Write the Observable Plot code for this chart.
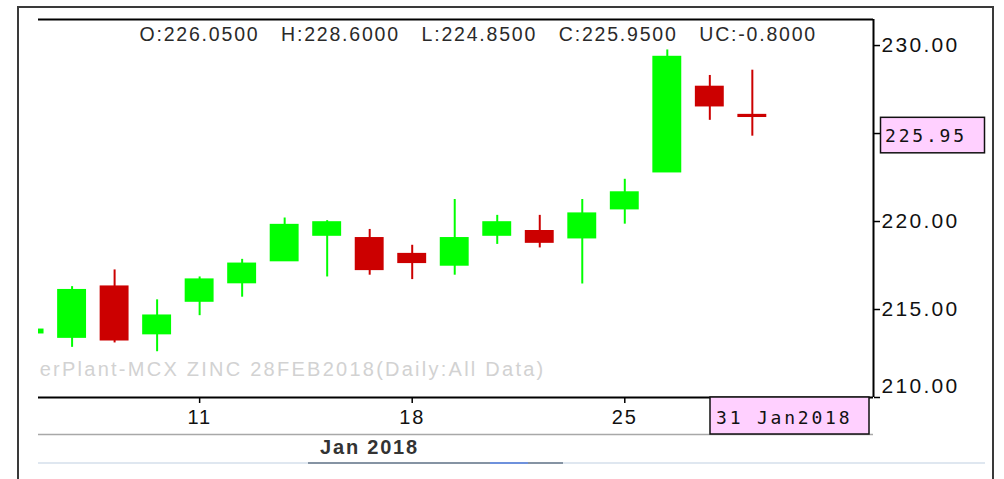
<!DOCTYPE html>
<html><head><meta charset="utf-8">
<script src="https://cdn.jsdelivr.net/npm/d3@7"></script>
<script src="https://cdn.jsdelivr.net/npm/@observablehq/plot@0.6"></script>
<style>
html,body{margin:0;padding:0;background:#fff;width:1004px;height:479px;overflow:hidden;}
#wrap{position:relative;width:1004px;height:479px;}
#chart svg{position:absolute;left:0;top:0;}
#border{position:absolute;left:17px;top:6px;width:977px;height:480px;border:2px solid #3a3a3a;border-bottom:none;box-sizing:border-box;pointer-events:none;}
</style></head>
<body><div id="wrap"><div id="chart"></div><div id="border"></div></div>
<script>
// ---- data (MCX ZINC 28FEB2018, daily) ----
const dates = ["2018-01-05","2018-01-08","2018-01-09","2018-01-10","2018-01-11","2018-01-12",
  "2018-01-15","2018-01-16","2018-01-17","2018-01-18","2018-01-19","2018-01-22",
  "2018-01-23","2018-01-24","2018-01-25","2018-01-29","2018-01-30","2018-01-31"];
const open  = [213.65,213.40,216.30,213.60,215.45,216.50,217.75,219.20,219.05,218.15,217.50,219.20,219.45,219.05,220.70,222.80,227.65,226.05];
const high  = [213.90,216.30,217.25,215.55,216.85,217.85,220.20,220.05,219.55,218.65,221.25,220.35,220.35,221.25,222.40,229.75,228.30,228.60];
const low   = [213.60,212.85,213.10,212.60,214.65,215.70,217.75,216.85,216.95,216.70,216.95,218.70,218.50,216.45,219.85,222.80,225.75,224.85];
const close = [213.85,216.10,213.25,214.65,216.70,217.60,219.80,219.95,217.25,217.65,219.05,219.95,218.80,220.45,221.65,229.35,226.55,225.95];
const priceChange = -0.80;
const yTicks = [210, 215, 220, 225, 230];
const xTickDays = ["2018-01-11", "2018-01-18", "2018-01-25"];
const watermark = "TickerPlant-MCX ZINC 28FEB2018(Daily:All Data)";
const monthLabel = "Jan 2018";

const upColor = "#00ff00", downColor = "#cc0000";
const data = dates.map((d, i) => ({i, date: d, open: open[i], high: high[i], low: low[i], close: close[i], up: close[i] >= open[i]}));
const last = data[data.length - 1];
const xTickIdx = xTickDays.map(d => dates.indexOf(d));
const xDomain = [0.21, 19.85];
const yDomain = [210, 231.48];
const half = 0.34;

const header = `O:${last.open.toFixed(4)}\u00a0\u00a0\u00a0H:${last.high.toFixed(4)}\u00a0\u00a0\u00a0L:${last.low.toFixed(4)}\u00a0\u00a0\u00a0C:${last.close.toFixed(4)}\u00a0\u00a0\u00a0UC:${priceChange.toFixed(4)}`;

const chart = Plot.plot({
  width: 1004, height: 479,
  marginLeft: 38, marginRight: 131, marginTop: 19, marginBottom: 82,
  style: {fontFamily: "'Liberation Sans', Arial, sans-serif", fontSize: "20px", letterSpacing: "1.8px", background: "transparent", overflow: "visible", color: "#111"},
  x: {type: "linear", domain: xDomain, axis: "bottom", ticks: xTickIdx, tickSize: 6, tickPadding: 6, tickFormat: i => String(+dates[i].slice(8)), label: null},
  y: {type: "linear", domain: yDomain, axis: "right", ticks: yTicks, tickSize: 6, tickPadding: 2, tickFormat: d => d.toFixed(2), label: null},
  marks: [
    Plot.text([watermark], {frameAnchor: "bottom-left", dx: 507, dy: -28, textAnchor: "end", lineAnchor: "middle", fill: "#d2d2d2", fontSize: 20, clip: true}),
    Plot.ruleX(data, {x: "i", y1: "low", y2: "high", stroke: d => d.up ? upColor : downColor, strokeWidth: 2, clip: true}),
    Plot.rect(data, {x1: d => d.i - half, x2: d => d.i + half, y1: "open", y2: "close", fill: d => d.up ? upColor : downColor, insetTop: -0.7, insetBottom: -0.7, clip: true}),
    Plot.ruleY([yDomain[1]], {stroke: "#000", strokeWidth: 2}),
    Plot.ruleY([yDomain[0]], {stroke: "#000", strokeWidth: 2}),
    Plot.ruleX([xDomain[1]], {stroke: "#000", strokeWidth: 2}),
    Plot.text([header], {frameAnchor: "top-left", dx: 101, dy: 15, textAnchor: "start", lineAnchor: "middle", fontSize: 19.5, fill: "#2a2a2a"}),
    Plot.text([monthLabel], {frameAnchor: "bottom-left", dx: 331, dy: 50, textAnchor: "middle", lineAnchor: "middle", fontSize: 20, fontWeight: "bold", fill: "#333"})
  ]
});
document.getElementById("chart").appendChild(chart);

// ---- chrome & value boxes placed through the scales ----
const svg = d3.select(chart);
const sx = chart.scale("x"), sy = chart.scale("y");
const left = sx.apply(xDomain[0]), right = sx.apply(xDomain[1]);
const bottom = sy.apply(yDomain[0]);

// axis styling
const yLabels = new Set(yTicks.map(d => d.toFixed(2)));
const hiddenLabel = (225).toFixed(2); // covered by the last-price box in the original
svg.selectAll("text").each(function() {
  const t = this.textContent;
  if (t === watermark) d3.select(this).style("letter-spacing", "2.25px");
  if (yLabels.has(t)) {
    if (t === hiddenLabel) { d3.select(this).remove(); return; }
    d3.select(this).style("font-size", "21px").style("letter-spacing", "2.3px").attr("fill", "#111");
    if (t === yDomain[0].toFixed(2)) {
      const tr = this.getAttribute("transform") || "";
      this.setAttribute("transform", tr + " translate(0,-11)");
    }
  }
});
svg.selectAll('g[aria-label^="x-axis"] line, g[aria-label^="y-axis"] line, g[aria-label^="x-axis"] path, g[aria-label^="y-axis"] path')
  .attr("stroke-width", 1.5).attr("stroke", "#000");

svg.append("line").attr("x1", left).attr("x2", right).attr("y1", bottom + 37.5).attr("y2", bottom + 37.5)
  .attr("stroke", "#a8a8a8").attr("stroke-width", 1.5);
const sb = bottom + 66;
svg.append("line").attr("x1", left).attr("x2", 985).attr("y1", sb).attr("y2", sb).attr("stroke", "#dfe7f0").attr("stroke-width", 2);
svg.append("line").attr("x1", 308).attr("x2", 563).attr("y1", sb).attr("y2", sb).attr("stroke", "#8593a3").attr("stroke-width", 2);
svg.append("line").attr("x1", 490).attr("x2", 528).attr("y1", sb).attr("y2", sb).attr("stroke", "#6e91dc").attr("stroke-width", 2);

const monoStyle = "font-family:'DejaVu Sans Mono','Liberation Mono',monospace;font-size:18px;letter-spacing:2.8px;";
// last price box
const py = sy.apply(last.close);
const pb = svg.append("g").attr("text-anchor", "start");
pb.append("rect").attr("x", right + 7.5).attr("y", py + 1).attr("width", 104).attr("height", 35.5)
  .attr("fill", "#ffd0ff").attr("stroke", "#111").attr("stroke-width", 1.5);
pb.append("text").attr("x", right + 12).attr("y", py + 19).attr("dy", "0.36em").attr("text-anchor", "start").attr("style", monoStyle).attr("fill", "#111")
  .text(last.close.toFixed(2));
// current date box
const db = svg.append("g").attr("text-anchor", "start");
db.append("rect").attr("x", right - 163).attr("y", bottom).attr("width", 159).attr("height", 37)
  .attr("fill", "#ffd0ff").attr("stroke", "#111").attr("stroke-width", 1.5);
db.append("text").attr("x", right - 157).attr("y", bottom + 21).attr("dy", "0.36em").attr("text-anchor", "start").attr("style", monoStyle).attr("fill", "#111")
  .text(d3.utcFormat("%d %b%Y")(new Date(last.date)));
</script>
</body></html>
